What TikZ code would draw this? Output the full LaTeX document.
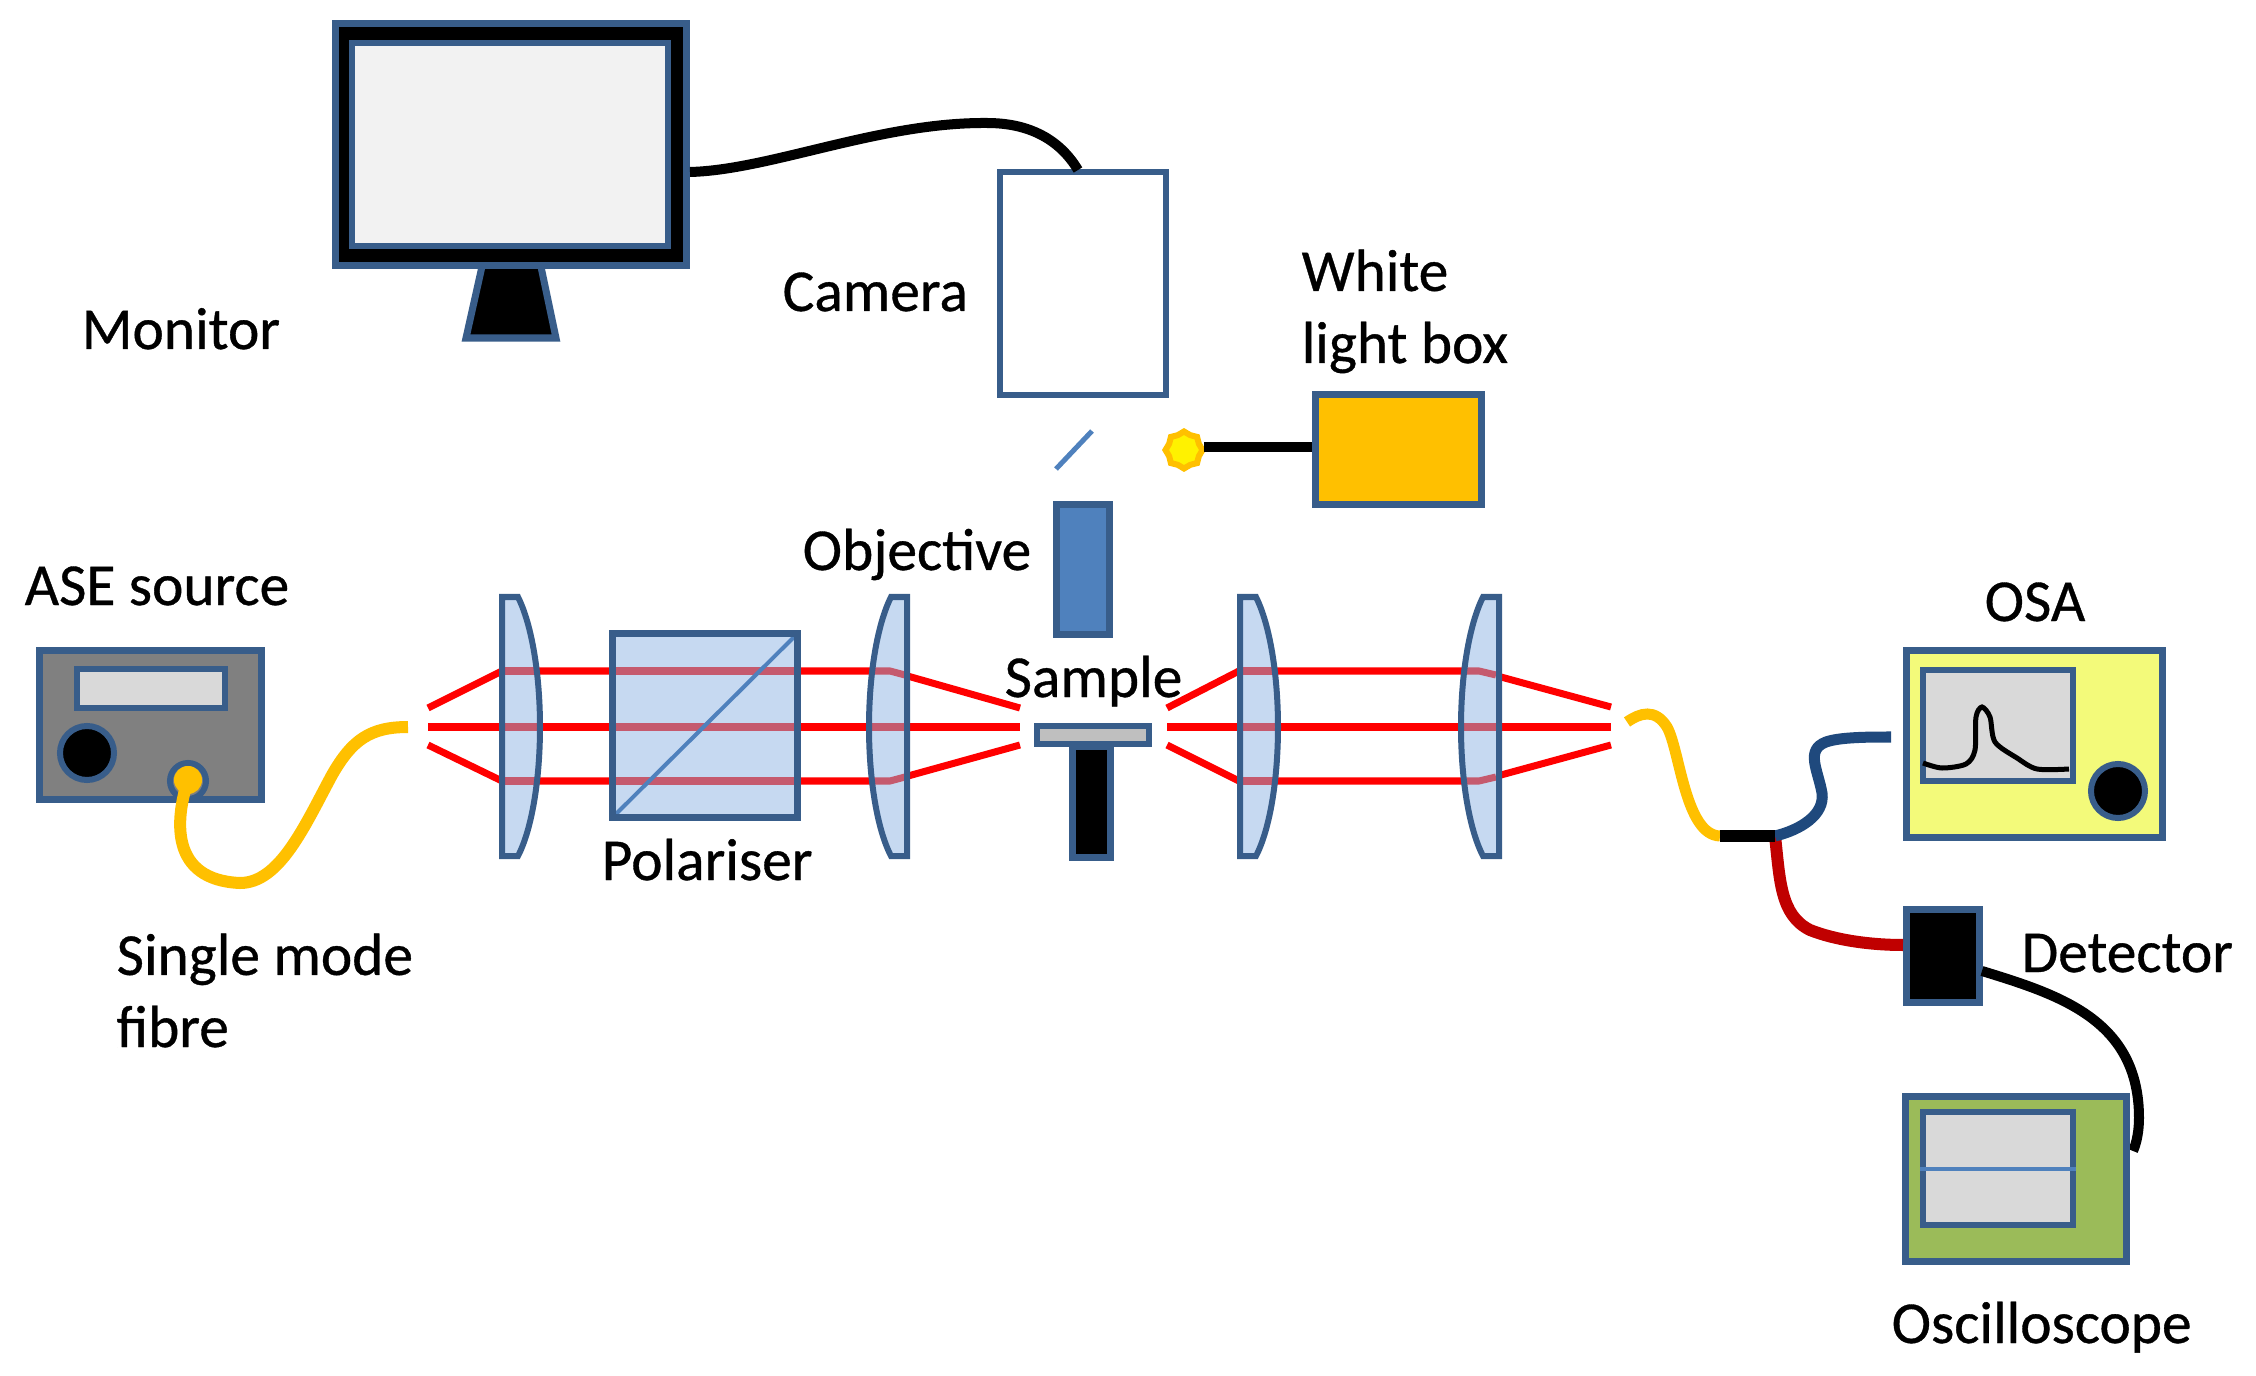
\documentclass[tikz,border=0pt]{standalone}
\usepackage{fontspec}
\setmainfont{Carlito}[FakeBold=0.6]
\usetikzlibrary{shapes.geometric}

\definecolor{edgeblue}{HTML}{385D8A}
\definecolor{midblue}{HTML}{4F81BD}
\definecolor{darkblue}{HTML}{1F497D}
\definecolor{glass}{HTML}{C6D9F1}
\definecolor{rosy}{HTML}{C55A6E}
\definecolor{screengrey}{HTML}{D9D9D9}
\definecolor{amber}{HTML}{FFC000}
\definecolor{paleyellow}{HTML}{F3FA7A}
\definecolor{scopegreen}{HTML}{9BBB59}
\definecolor{darkred}{HTML}{C00000}

\tikzset{
    box/.style={rectangle, draw=edgeblue, line width=0.07cm, inner sep=0pt},
    thinbox/.style={box, line width=0.06cm},
    knob/.style={circle, draw=edgeblue, line width=0.06cm, fill=black, inner sep=0pt, minimum size=0.54cm},
    lab/.style={anchor=base west, inner sep=0pt, align=left, font=\fontsize{16.9}{20.5}\selectfont},
    ray/.style={red, line width=0.07cm},
    rayin/.style={rosy, line width=0.07cm},
    lensfill/.style={fill=glass},
    lensline/.style={draw=edgeblue, line width=0.06cm},
    fibre/.style={line width=0.12cm},
    wire/.style={black, line width=0.10cm}
}

\def\lensA{(502,597) -- (518,597) .. controls (532,625) and (540,675) .. (540,727) .. controls (540,779) and (532,829) .. (518,856) -- (502,856) -- cycle}
\def\lensB{(907,597) -- (891,597) .. controls (877,625) and (869,675) .. (869,727) .. controls (869,779) and (877,829) .. (891,856) -- (907,856) -- cycle}
\def\lensC{(1240,597) -- (1256,597) .. controls (1270,625) and (1278,675) .. (1278,727) .. controls (1278,779) and (1270,829) .. (1256,856) -- (1240,856) -- cycle}
\def\lensD{(1499,597) -- (1483,597) .. controls (1469,625) and (1461,675) .. (1461,727) .. controls (1461,779) and (1469,829) .. (1483,856) -- (1499,856) -- cycle}

\begin{document}
\begin{tikzpicture}[x=0.01cm, y=-0.01cm]
    \useasboundingbox (0,0) rectangle (2256,1376);

    % Monitor and camera
    \draw[box, fill=black] (483,262) -- (540,262) -- (556,338) -- (466,338) -- cycle;
    \path
    (511,144.5) node[box, fill=black, minimum width=3.51cm, minimum height=2.42cm] (monitor) {}
    (510,144.5) node[thinbox, fill=black!5, minimum width=3.15cm, minimum height=2.02cm] (monitorscreen) {}
    (1083,283.5) node[thinbox, fill=white, minimum width=1.65cm, minimum height=2.23cm] (camera) {}
    ;
    \coordinate (monitorout) at (690,172);
    \coordinate (cameraout) at (1078,170);
    \draw[wire] (monitorout) .. controls (770,170) and (880,122) .. (987,123)
        .. controls (1030,123) and (1060,140) .. (cameraout);

    % White light
    \path
    (1398.5,449.5) node[box, fill=amber, minimum width=1.66cm, minimum height=1.10cm] (lightbox) {}
    (1184,450) node[star, star points=8, star point ratio=1.15, draw=amber, fill=yellow, line width=0.06cm, inner sep=0pt, minimum size=0.37cm] (lamp) {}
    ;
    \coordinate (mirrorlow) at (1056,469);
    \coordinate (mirrorhigh) at (1092,431);
    \draw[black, line width=0.09cm] (lamp) ++(20,-3) -- (lightbox.west |- 0,447);
    \draw[midblue, line width=0.05cm] (mirrorlow) -- (mirrorhigh);

    % Rays
    \coordinate (inT) at (428,708);
    \coordinate (inM) at (428,727);
    \coordinate (inB) at (428,745);
    \coordinate (lensAT) at (502,671);
    \coordinate (lensAB) at (502,781);
    \coordinate (bendT) at (890,671);
    \coordinate (bendB) at (890,781);
    \coordinate (sampleLT) at (1020,708);
    \coordinate (sampleLM) at (1020,727);
    \coordinate (sampleLB) at (1020,745);
    \coordinate (sampleRT) at (1167,708);
    \coordinate (sampleRM) at (1167,727);
    \coordinate (sampleRB) at (1167,745);
    \coordinate (lensCT) at (1239,671);
    \coordinate (lensCB) at (1239,781);
    \coordinate (lensDT) at (1479,671);
    \coordinate (lensDB) at (1479,781);
    \coordinate (outT) at (1611,707);
    \coordinate (outM) at (1611,727);
    \coordinate (outB) at (1611,745);
    \draw[ray] (inT) -- (lensAT) -- (bendT) -- (sampleLT);
    \draw[ray] (inM) -- (sampleLM);
    \draw[ray] (inB) -- (lensAB) -- (bendB) -- (sampleLB);
    \draw[ray] (sampleRT) -- (lensCT) -- (lensDT) -- (outT);
    \draw[ray] (sampleRM) -- (outM);
    \draw[ray] (sampleRB) -- (lensCB) -- (lensDB) -- (outB);

    % Lenses
    \fill[lensfill] \lensA;
    \fill[lensfill] \lensB;
    \fill[lensfill] \lensC;
    \fill[lensfill] \lensD;
    \path (705,725.5) node[rectangle, fill=glass, inner sep=0pt, minimum width=1.83cm, minimum height=1.82cm] (polariser) {};
    \foreach \yy in {671,727,781} {
        \draw[rayin] (505,\yy) -- (537,\yy);
        \draw[rayin] (613,\yy) -- (797,\yy);
        \draw[rayin] (1243,\yy) -- (1275,\yy);
    }
    \draw[rayin] (872,671) -- (890,671) -- (905,675);
    \draw[rayin] (871,727) -- (905,727);
    \draw[rayin] (872,781) -- (890,781) -- (905,777);
    \draw[rayin] (1464,671) -- (1479,671) -- (1496,675);
    \draw[rayin] (1463,727) -- (1496,727);
    \draw[rayin] (1464,781) -- (1479,781) -- (1496,777);
    \draw[lensline] \lensA;
    \draw[lensline] \lensB;
    \draw[lensline] \lensC;
    \draw[lensline] \lensD;
    \draw[midblue, line width=0.04cm] (polariser.south west) -- (polariser.north east);
    \draw[edgeblue, line width=0.07cm] (polariser.south west) rectangle (polariser.north east);

    % Objective and sample
    \path
    (1083,569.5) node[box, fill=midblue, minimum width=0.53cm, minimum height=1.29cm] (objective) {}
    (1091.5,802) node[box, fill=black, minimum width=0.37cm, minimum height=1.10cm] (post) {}
    (1093,735) node[thinbox, fill=black!25, minimum width=1.12cm, minimum height=0.18cm] (plate) {}
    ;

    % ASE source
    \path
    (150.5,725) node[box, fill=black!50, minimum width=2.21cm, minimum height=1.48cm] (ase) {}
    (151,688.5) node[thinbox, fill=screengrey, minimum width=1.48cm, minimum height=0.39cm] (asedisplay) {}
    (87,753) node[knob] (aseknob) {}
    (188,781) node[circle, draw=edgeblue, line width=0.06cm, fill=black!50, inner sep=0pt, minimum size=0.36cm] (socket) {}
    (188,780) node[circle, fill=amber, inner sep=0pt, minimum size=0.28cm] (socketdot) {}
    ;
    \coordinate (fibreend) at (408,727);
    \draw[amber, fibre] (socketdot.center) .. controls (175,820) and (170,880) .. (240,883)
        .. controls (280,883) and (305,825) .. (332,775)
        .. controls (352,740) and (370,727) .. (fibreend);

    % Output fibres
    \coordinate (fibrein) at (1627,722);
    \coordinate (splitA) at (1720,836);
    \coordinate (splitB) at (1775,836);
    \coordinate (osain) at (1891,737);
    \path
    (2034.5,744) node[box, fill=paleyellow, minimum width=2.56cm, minimum height=1.86cm] (osa) {}
    (1998,725.5) node[thinbox, fill=screengrey, minimum width=1.50cm, minimum height=1.11cm] (osascreen) {}
    (2118,791) node[knob] (osaknob) {}
    (1943,956) node[box, fill=black, minimum width=0.73cm, minimum height=0.92cm] (detector) {}
    ;
    \draw[black, line width=0.05cm] plot[smooth, tension=0.5] coordinates {(1923,763) (1942,768) (1966,764) (1975,750) (1976,717) (1982,707) (1990,717) (1995,742) (2017,758) (2037,769) (2069,769)};
    \draw[amber, line width=0.11cm] (fibrein) .. controls (1640,713) and (1655,708) .. (1667,727)
        .. controls (1680,750) and (1685,835) .. (splitA);
    \draw[darkred, fibre] (splitB) .. controls (1780,880) and (1780,915) .. (1810,930)
        .. controls (1835,940) and (1870,945) .. (detector.west |- 0,945);
    \draw[darkblue, line width=0.11cm] (splitB) .. controls (1800,830) and (1825,815) .. (1822,793)
        .. controls (1818,770) and (1805,750) .. (1826,742)
        .. controls (1840,737) and (1870,737) .. (osain);
    \draw[black, line width=0.12cm] (splitA) -- (splitB);

    % Oscilloscope
    \coordinate (detectorout) at (1982,971);
    \coordinate (scopein) at (2133,1151);
    \draw[wire] (detectorout) .. controls (2060,995) and (2139,1020) .. (2139,1118)
        .. controls (2139,1130) and (2137,1142) .. (scopein);
    \path
    (2016,1179) node[box, fill=scopegreen, minimum width=2.20cm, minimum height=1.65cm] (scope) {}
    (1998,1168.5) node[thinbox, fill=screengrey, minimum width=1.50cm, minimum height=1.13cm] (scopescreen) {}
    ;
    \draw[midblue, line width=0.04cm] (scopescreen.west) -- (scopescreen.east);

    % Labels
    \path
    (81,349) node[lab] (monitorlab) {Monitor}
    (782,311) node[lab] (cameralab) {Camera}
    (1301,363) node[lab] (lightlab) {White\\light box}
    (802,570) node[lab] (objectivelab) {Objective}
    (1004,697) node[lab] (samplelab) {Sample}
    (24,605) node[lab] (aselab) {ASE source}
    (601,880) node[lab] (polariserlab) {Polariser}
    (116,1047) node[lab] (fibrelab) {Single mode\\fibre}
    (1984,621) node[lab] (osalab) {OSA}
    (2021,972) node[lab] (detectorlab) {Detector}
    (1891,1343) node[lab] (scopelab) {Oscilloscope}
    ;
\end{tikzpicture}
\end{document}
